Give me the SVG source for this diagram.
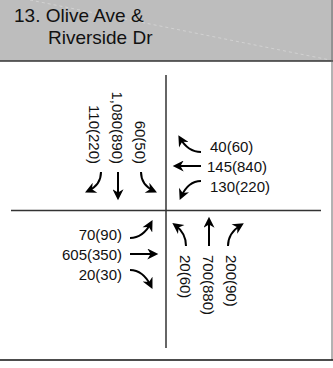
<svg xmlns="http://www.w3.org/2000/svg" width="333" height="368" viewBox="0 0 333 368">
<style>
.t{font-family:"Liberation Sans",Arial,sans-serif;fill:#111}
.title{font-size:19px}
.n{font-size:15px}
.a{fill:none;stroke:#000;stroke-width:2;marker-end:url(#ah)}
</style>
<defs>
<marker id="ah" viewBox="0 0 10 10" refX="7" refY="5" markerWidth="6" markerHeight="5.5" orient="auto" markerUnits="strokeWidth">
<path d="M0,0 L10,5 L0,10 L3,5 Z" fill="#000"/>
</marker>
</defs>
<rect width="333" height="368" fill="#fff"/>
<g id="header">
<rect x="0" y="0" width="333" height="61" fill="#bdbdbd"/>
<line x1="30" y1="0" x2="330" y2="60" stroke="#fff" stroke-opacity="0.3" stroke-dasharray="3,3" stroke-width="1"/>
<line x1="0" y1="61" x2="333" y2="61" stroke="#333" stroke-width="1.5"/>
<text class="t title" x="14" y="22">13. Olive Ave &amp;</text>
<text class="t title" x="48" y="44">Riverside Dr</text>
</g>
<g id="frame">
<line x1="332" y1="0" x2="332" y2="360" stroke="#666" stroke-width="1"/>
<line x1="0" y1="360" x2="333" y2="360" stroke="#111" stroke-width="1.5"/>
</g>
<g id="roads" stroke="#333" stroke-width="1.5">
<line x1="166" y1="75" x2="166" y2="348"/>
<line x1="11" y1="210.5" x2="321" y2="210.5"/>
</g>
<g id="connectors">
<path class="a" d="M101,172 Q101,185 88,191"/>
<path class="a" d="M118,172 L118,197"/>
<path class="a" d="M141,172 Q141,185 154,191"/>
<path class="a" d="M201,152 Q188,152 180,138"/>
<path class="a" d="M201,166 L176,166"/>
<path class="a" d="M201,181 Q188,181 181,197"/>
<path class="a" d="M130,238 Q143,238 151,223"/>
<path class="a" d="M130,254 L155,254"/>
<path class="a" d="M130,270 Q143,270 151,286"/>
<path class="a" d="M186,246 Q186,233 175,225"/>
<path class="a" d="M209,246 L209,220"/>
<path class="a" d="M228,246 Q228,233 241,225"/>
</g>
<g id="sb">
<text class="t n" transform="translate(89,164) rotate(90)" text-anchor="end">110(220)</text>
<text class="t n" transform="translate(112,164) rotate(90)" text-anchor="end">1,080(890)</text>
<text class="t n" transform="translate(135,164) rotate(90)" text-anchor="end">60(50)</text>
</g>
<g id="wb">
<text class="t n" x="210" y="152">40(60)</text>
<text class="t n" x="207" y="172">145(840)</text>
<text class="t n" x="210" y="192">130(220)</text>
</g>
<g id="eb">
<text class="t n" x="122" y="240" text-anchor="end">70(90)</text>
<text class="t n" x="122" y="260" text-anchor="end">605(350)</text>
<text class="t n" x="122" y="280" text-anchor="end">20(30)</text>
</g>
<g id="nb">
<text class="t n" transform="translate(180,255) rotate(90)">20(60)</text>
<text class="t n" transform="translate(203,255) rotate(90)">700(880)</text>
<text class="t n" transform="translate(226,255) rotate(90)">200(90)</text>
</g>
</svg>
